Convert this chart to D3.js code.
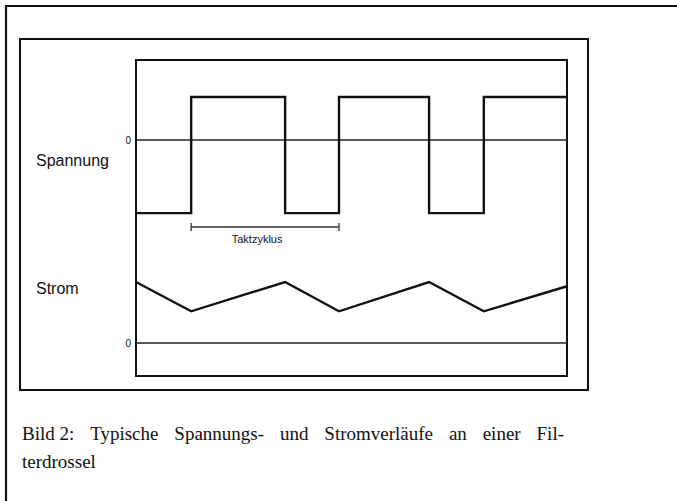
<!DOCTYPE html>
<html><head><meta charset="utf-8">
<script src="https://cdn.jsdelivr.net/npm/d3@7/dist/d3.min.js"></script>
<style>html,body{margin:0;padding:0;background:#fff;}svg{display:block;}</style>
</head><body>
<script>
// --- data ---
const timeTicks = [0, 12.8, 34.6, 47.1, 68.0, 80.7, 100];          // switching instants (% of window)
const spannungLevels = [-1.7, 1.0, -1.7, 1.0, -1.7, 1.0];          // level in each interval
const stromTimes = [0, 12.8, 34.6, 47.1, 68.0, 80.7, 100];
const stromValues = [1.0, 0.52, 1.0, 0.52, 1.0, 0.52, 0.93];
const taktzyklus = [12.8, 47.1];
const rowLabels = ["Spannung", "Strom"];
const zeroLabel = "0";
const captionLine1 = ["Bild\u00a02:", "Typische", "Spannungs-", "und", "Stromverläufe", "an", "einer", "Fil-"];
const captionLine2 = "terdrossel";

const W = 677, H = 501;
const svg = d3.select("body").append("svg").attr("width", W).attr("height", H);

// outer page frame (top + left)
svg.append("path").attr("d", `M6,${H} V6 H${W}`).attr("fill","none").attr("stroke","#111").attr("stroke-width",2.2);
// inner figure frame
svg.append("rect").attr("x",20).attr("y",39).attr("width",568).attr("height",351)
  .attr("fill","none").attr("stroke","#111").attr("stroke-width",2);

const plot = {x0:136, x1:567, y0:60, y1:376};
const x = d3.scaleLinear().domain([0,100]).range([plot.x0, plot.x1]);
const yU = d3.scaleLinear().domain([0,1]).range([140,97]);
const yI = d3.scaleLinear().domain([0,1]).range([343,282]);

// plot box
svg.append("rect").attr("x",plot.x0).attr("y",plot.y0).attr("width",plot.x1-plot.x0).attr("height",plot.y1-plot.y0)
  .attr("fill","none").attr("stroke","#111").attr("stroke-width",2);

// zero lines
svg.append("line").attr("x1",x(0)).attr("x2",x(100)).attr("y1",yU(0)).attr("y2",yU(0)).attr("stroke","#222").attr("stroke-width",1.6);
svg.append("line").attr("x1",x(0)).attr("x2",x(100)).attr("y1",yI(0)).attr("y2",yI(0)).attr("stroke","#222").attr("stroke-width",1.6);

// voltage square wave
const uPts = [];
spannungLevels.forEach((v,i)=>{ uPts.push([timeTicks[i], v]); uPts.push([timeTicks[i+1], v]); });
svg.append("path").datum(uPts)
  .attr("d", d3.line().x(d=>x(d[0])).y(d=>yU(d[1])))
  .attr("fill","none").attr("stroke","#111").attr("stroke-width",2.4);

// current triangle wave
svg.append("path").datum(stromTimes.map((t,i)=>[t, stromValues[i]]))
  .attr("d", d3.line().x(d=>x(d[0])).y(d=>yI(d[1])))
  .attr("fill","none").attr("stroke","#111").attr("stroke-width",2.4).attr("stroke-linejoin","miter");

// Taktzyklus bracket
const by = 227;
const g = svg.append("g").attr("stroke","#333").attr("stroke-width",1.3);
g.append("line").attr("x1",x(taktzyklus[0])).attr("x2",x(taktzyklus[1])).attr("y1",by).attr("y2",by);
g.append("line").attr("x1",x(taktzyklus[0])).attr("x2",x(taktzyklus[0])).attr("y1",by-4).attr("y2",by+4);
g.append("line").attr("x1",x(taktzyklus[1])).attr("x2",x(taktzyklus[1])).attr("y1",by-4).attr("y2",by+4);
svg.append("text").attr("x",(x(taktzyklus[0])+x(taktzyklus[1]))/2 - 8).attr("y",243)
  .attr("text-anchor","middle").attr("font-family","Arial, 'Liberation Sans', sans-serif").attr("font-size",11)
  .attr("fill","#111").text("Taktzyklus");

// zero labels
[yU(0), yI(0)].forEach(yy=>{
  svg.append("text").attr("x",131).attr("y",yy).attr("dy","0.35em").attr("text-anchor","end")
    .attr("font-family","Arial, 'Liberation Sans', sans-serif").attr("font-size",10).attr("fill","#111").text(zeroLabel);
});

// row labels
svg.append("text").attr("x",36).attr("y",166).attr("font-family","Arial, 'Liberation Sans', sans-serif")
  .attr("font-size",16).attr("fill","#111").text(rowLabels[0]);
svg.append("text").attr("x",36).attr("y",294).attr("font-family","Arial, 'Liberation Sans', sans-serif")
  .attr("font-size",16).attr("fill","#111").text(rowLabels[1]);

// caption, justified line 1
const capFont = "'Times New Roman', 'Liberation Serif', serif";
const capX0 = 22, capX1 = 564, capY1 = 440, capY2 = 468;
const words = svg.append("g").selectAll("text").data(captionLine1).join("text")
  .attr("y",capY1).attr("font-family",capFont).attr("font-size",19).attr("fill","#111").text(d=>d);
const widths = []; words.each(function(){ widths.push(this.getComputedTextLength()); });
const gap = (capX1 - capX0 - d3.sum(widths)) / (captionLine1.length - 1);
let cx = capX0;
words.each(function(d,i){ d3.select(this).attr("x", cx); cx += widths[i] + gap; });
svg.append("text").attr("x",capX0).attr("y",capY2).attr("font-family",capFont).attr("font-size",19)
  .attr("fill","#111").text(captionLine2);
</script>
</body></html>
